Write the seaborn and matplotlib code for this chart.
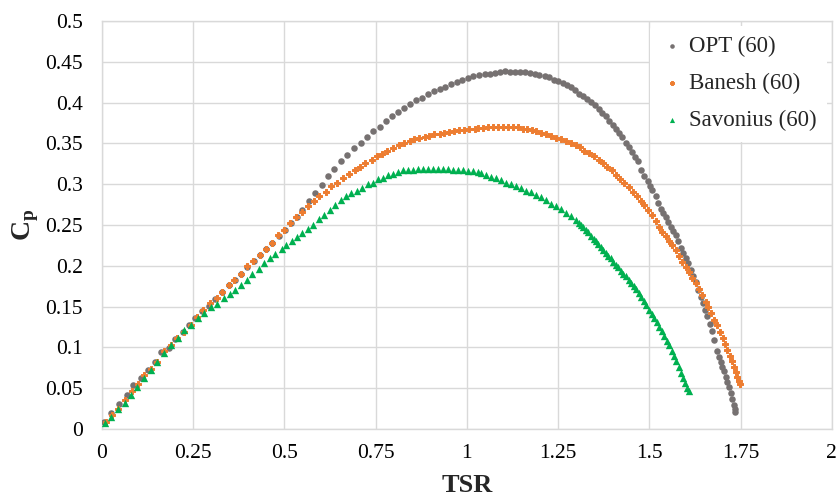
import numpy as np
import pandas as pd
import matplotlib
matplotlib.use("Agg")
import matplotlib.pyplot as plt
import seaborn as sns
from matplotlib.ticker import FuncFormatter, MultipleLocator

# values
opt_tsr = [0.005, 0.026, 0.047, 0.068, 0.086, 0.106, 0.127, 0.145, 0.163, 0.184,
           0.200, 0.221, 0.239, 0.256, 0.275, 0.293, 0.311, 0.329, 0.347, 0.364,
           0.380, 0.398, 0.416, 0.432, 0.449, 0.466, 0.484, 0.501, 0.519, 0.534,
           0.549, 0.567, 0.585, 0.602, 0.619, 0.637, 0.654, 0.672, 0.691, 0.709,
           0.726, 0.743, 0.761, 0.777, 0.794, 0.812, 0.828, 0.845, 0.861, 0.877,
           0.894, 0.910, 0.927, 0.941, 0.957, 0.972, 0.987, 1.002, 1.018, 1.034,
           1.049, 1.062, 1.076, 1.090, 1.105, 1.118, 1.133, 1.146, 1.160, 1.173,
           1.186, 1.198, 1.213, 1.226, 1.238, 1.249, 1.262, 1.273, 1.285, 1.295,
           1.308, 1.319, 1.330, 1.340, 1.350, 1.361, 1.371, 1.381, 1.390, 1.399,
           1.408, 1.417, 1.426, 1.435, 1.445, 1.452, 1.461, 1.468, 1.477, 1.486,
           1.495, 1.501, 1.508, 1.518, 1.525, 1.531, 1.538, 1.545, 1.552, 1.559,
           1.566, 1.572, 1.579, 1.586, 1.593, 1.600, 1.606, 1.613, 1.620, 1.627,
           1.634, 1.641, 1.647, 1.653, 1.659, 1.665, 1.671, 1.677, 1.686, 1.691,
           1.696, 1.700, 1.705, 1.709, 1.714, 1.718, 1.723, 1.727, 1.731, 1.734,
           1.736]
opt_cp = [0.009, 0.019, 0.031, 0.042, 0.054, 0.063, 0.072, 0.082, 0.094, 0.099,
          0.110, 0.119, 0.127, 0.136, 0.144, 0.151, 0.159, 0.168, 0.176, 0.183,
          0.190, 0.198, 0.206, 0.213, 0.221, 0.228, 0.237, 0.244, 0.252, 0.260,
          0.268, 0.279, 0.289, 0.299, 0.310, 0.319, 0.328, 0.336, 0.344, 0.351,
          0.358, 0.365, 0.370, 0.377, 0.383, 0.388, 0.393, 0.398, 0.403, 0.406,
          0.410, 0.414, 0.417, 0.419, 0.423, 0.425, 0.428, 0.430, 0.432, 0.434,
          0.435, 0.435, 0.436, 0.437, 0.439, 0.438, 0.438, 0.437, 0.437, 0.436,
          0.435, 0.434, 0.433, 0.431, 0.428, 0.426, 0.424, 0.422, 0.419, 0.415,
          0.411, 0.408, 0.404, 0.401, 0.397, 0.392, 0.387, 0.383, 0.378, 0.373,
          0.368, 0.363, 0.358, 0.351, 0.345, 0.340, 0.333, 0.328, 0.318, 0.310,
          0.304, 0.298, 0.293, 0.285, 0.277, 0.270, 0.265, 0.260, 0.254, 0.248,
          0.243, 0.238, 0.231, 0.222, 0.216, 0.210, 0.203, 0.195, 0.187, 0.180,
          0.170, 0.162, 0.154, 0.146, 0.138, 0.129, 0.120, 0.109, 0.095, 0.088,
          0.082, 0.076, 0.071, 0.064, 0.057, 0.051, 0.044, 0.037, 0.030, 0.025,
          0.021]

banesh_tsr = [0.010, 0.027, 0.045, 0.063, 0.082, 0.099, 0.116, 0.133, 0.151, 0.170,
              0.189, 0.206, 0.224, 0.243, 0.261, 0.278, 0.295, 0.314, 0.330, 0.347,
              0.363, 0.380, 0.398, 0.415, 0.432, 0.449, 0.466, 0.482, 0.498, 0.516,
              0.533, 0.549, 0.565, 0.580, 0.596, 0.613, 0.628, 0.645, 0.660, 0.677,
              0.692, 0.708, 0.722, 0.739, 0.753, 0.768, 0.782, 0.797, 0.813, 0.827,
              0.843, 0.856, 0.870, 0.884, 0.897, 0.911, 0.925, 0.938, 0.952, 0.966,
              0.979, 0.993, 1.007, 1.021, 1.030, 1.043, 1.057, 1.071, 1.084, 1.098,
              1.112, 1.125, 1.139, 1.153, 1.166, 1.178, 1.189, 1.203, 1.217, 1.230,
              1.244, 1.258, 1.271, 1.285, 1.299, 1.309, 1.321, 1.335, 1.349, 1.363,
              1.373, 1.385, 1.397, 1.408, 1.420, 1.431, 1.443, 1.454, 1.465, 1.476,
              1.486, 1.495, 1.507, 1.518, 1.527, 1.536, 1.545, 1.554, 1.563, 1.572,
              1.581, 1.590, 1.600, 1.609, 1.618, 1.627, 1.636, 1.645, 1.654, 1.662,
              1.670, 1.678, 1.686, 1.694, 1.701, 1.708, 1.714, 1.720, 1.726, 1.732,
              1.737, 1.741, 1.745, 1.748]
banesh_cp = [0.009, 0.017, 0.025, 0.036, 0.046, 0.055, 0.066, 0.073, 0.082, 0.095,
             0.103, 0.111, 0.119, 0.128, 0.137, 0.146, 0.154, 0.161, 0.168, 0.176,
             0.183, 0.190, 0.200, 0.206, 0.213, 0.221, 0.228, 0.238, 0.244, 0.252,
             0.260, 0.266, 0.273, 0.280, 0.286, 0.291, 0.298, 0.302, 0.307, 0.312,
             0.317, 0.321, 0.326, 0.330, 0.335, 0.337, 0.341, 0.344, 0.348, 0.350,
             0.353, 0.355, 0.357, 0.358, 0.359, 0.361, 0.362, 0.363, 0.364, 0.365,
             0.366, 0.367, 0.368, 0.368, 0.369, 0.369, 0.370, 0.370, 0.370, 0.370,
             0.370, 0.370, 0.370, 0.368, 0.368, 0.367, 0.365, 0.363, 0.361, 0.359,
             0.357, 0.355, 0.353, 0.350, 0.348, 0.345, 0.341, 0.338, 0.334, 0.330,
             0.326, 0.321, 0.317, 0.311, 0.306, 0.302, 0.297, 0.291, 0.286, 0.280,
             0.274, 0.268, 0.262, 0.255, 0.248, 0.242, 0.236, 0.230, 0.226, 0.219,
             0.212, 0.205, 0.199, 0.192, 0.185, 0.179, 0.172, 0.164, 0.156, 0.149,
             0.142, 0.134, 0.127, 0.119, 0.112, 0.104, 0.097, 0.090, 0.083, 0.076,
             0.070, 0.064, 0.059, 0.055]

savonius_tsr = [0.008, 0.026, 0.045, 0.063, 0.079, 0.097, 0.116, 0.134, 0.152, 0.170,
                0.189, 0.207, 0.225, 0.245, 0.262, 0.280, 0.298, 0.316, 0.333, 0.350,
                0.365, 0.382, 0.398, 0.412, 0.429, 0.444, 0.460, 0.475, 0.492, 0.505,
                0.521, 0.535, 0.549, 0.565, 0.578, 0.595, 0.609, 0.624, 0.638, 0.654,
                0.669, 0.683, 0.699, 0.713, 0.729, 0.742, 0.756, 0.770, 0.783, 0.797,
                0.811, 0.824, 0.838, 0.852, 0.865, 0.879, 0.893, 0.906, 0.920, 0.934,
                0.947, 0.961, 0.975, 0.989, 1.002, 1.016, 1.030, 1.039, 1.052, 1.066,
                1.080, 1.094, 1.107, 1.121, 1.135, 1.148, 1.162, 1.176, 1.189, 1.203,
                1.217, 1.230, 1.244, 1.258, 1.271, 1.285, 1.299, 1.306, 1.312, 1.319,
                1.326, 1.333, 1.340, 1.347, 1.353, 1.360, 1.367, 1.374, 1.381, 1.388,
                1.394, 1.401, 1.408, 1.415, 1.422, 1.429, 1.436, 1.443, 1.450, 1.457,
                1.464, 1.471, 1.478, 1.485, 1.492, 1.499, 1.506, 1.513, 1.520, 1.527,
                1.534, 1.540, 1.547, 1.554, 1.561, 1.567, 1.574, 1.581, 1.587, 1.593,
                1.599, 1.604, 1.608]
savonius_cp = [0.007, 0.015, 0.024, 0.032, 0.042, 0.052, 0.062, 0.072, 0.082, 0.093,
               0.103, 0.111, 0.121, 0.127, 0.136, 0.142, 0.149, 0.153, 0.160, 0.165,
               0.170, 0.176, 0.183, 0.190, 0.196, 0.203, 0.209, 0.215, 0.220, 0.225,
               0.230, 0.235, 0.240, 0.245, 0.250, 0.257, 0.262, 0.268, 0.275, 0.281,
               0.285, 0.289, 0.292, 0.295, 0.300, 0.302, 0.306, 0.308, 0.311, 0.313,
               0.315, 0.317, 0.317, 0.318, 0.319, 0.319, 0.319, 0.319, 0.319, 0.319,
               0.319, 0.318, 0.318, 0.317, 0.316, 0.316, 0.315, 0.314, 0.311, 0.309,
               0.307, 0.305, 0.302, 0.300, 0.298, 0.295, 0.292, 0.290, 0.287, 0.284,
               0.281, 0.276, 0.273, 0.269, 0.265, 0.261, 0.256, 0.253, 0.250, 0.247,
               0.244, 0.241, 0.237, 0.233, 0.230, 0.227, 0.223, 0.219, 0.216, 0.212,
               0.209, 0.205, 0.201, 0.198, 0.194, 0.190, 0.187, 0.183, 0.179, 0.175,
               0.171, 0.167, 0.162, 0.157, 0.152, 0.146, 0.141, 0.136, 0.131, 0.125,
               0.120, 0.114, 0.108, 0.103, 0.096, 0.090, 0.083, 0.076, 0.069, 0.062,
               0.056, 0.050, 0.046]

series = ["OPT (60)", "Banesh (60)", "Savonius (60)"]
colors = ["#767171", "#ED7D31", "#00B050"]
markers = ["o", "P", "^"]
sizes = [22, 24, 28]
edges = [0, 0.7, 0]

sns.set_style("white")
plt.rcParams['font.family'] = ['Liberation Serif', 'DejaVu Serif']
plt.rcParams['mathtext.fontset'] = 'custom'
plt.rcParams['mathtext.rm'] = 'Liberation Serif'
plt.rcParams['mathtext.bf'] = 'Liberation Serif:bold'

fig = plt.figure(figsize=(8.36, 4.99), dpi=100)
ax = fig.add_axes([0.122, 0.1403, 0.873, 0.8176])

data = [(opt_tsr, opt_cp), (banesh_tsr, banesh_cp), (savonius_tsr, savonius_cp)]
for (xs, ys), name, c, m, s, lw in zip(data, series, colors, markers, sizes, edges):
    df = pd.DataFrame({'TSR': xs, 'Cp': ys})
    sns.scatterplot(ax=ax, data=df, x='TSR', y='Cp', color=c, marker=m,
                    s=s, linewidth=lw, edgecolor=c, label=name, zorder=3)

ax.set_xlim(0, 2)
ax.set_ylim(0, 0.5)
ax.xaxis.set_major_locator(MultipleLocator(0.25))
ax.yaxis.set_major_locator(MultipleLocator(0.05))
fmt = FuncFormatter(lambda v, p: f"{round(v, 3):g}")
ax.xaxis.set_major_formatter(fmt)
ax.yaxis.set_major_formatter(fmt)
ax.tick_params(axis='both', length=0, labelsize=15.5, colors='black')
ax.tick_params(axis='x', pad=11)
ax.tick_params(axis='y', pad=14)
ax.grid(True, color='#d9d9d9', linewidth=1)
ax.set_axisbelow(True)
for sp in ax.spines.values():
    sp.set_color('#d9d9d9')
    sp.set_linewidth(1)

ax.set_xlabel('TSR', fontsize=19, fontweight='bold', labelpad=8)
ax.set_ylabel(r'$\mathbf{C}_\mathbf{p}$', fontsize=20, labelpad=3)

leg = ax.legend(loc='upper right', bbox_to_anchor=(1.0, 1.0), fontsize=16.5,
                frameon=True, framealpha=1, edgecolor='white', markerscale=0.7,
                handletextpad=0.25, labelspacing=0.7, borderpad=0.45,
                handlelength=1.0, borderaxespad=0.2)
leg.get_frame().set_linewidth(0)

plt.savefig("out.png", dpi=100)
